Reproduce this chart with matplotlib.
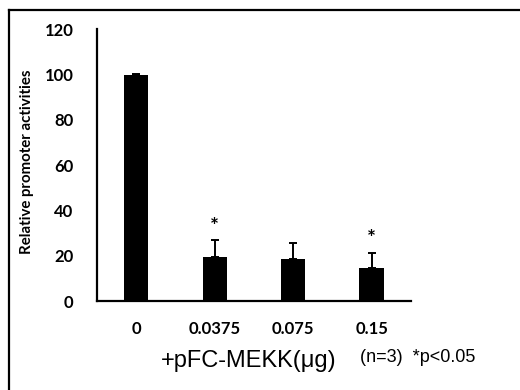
import matplotlib
matplotlib.use("Agg")
import matplotlib.pyplot as plt
from matplotlib.lines import Line2D

# data
doses = ["0", "0.0375", "0.075", "0.15"]
activity = [99.5, 19.5, 18.4, 14.4]
errors = [0.6, 7.4, 7.0, 6.9]
significant = [False, True, False, True]

plt.rcParams['font.family'] = ['Lato', 'DejaVu Sans']

fig = plt.figure(figsize=(5.2, 3.9), dpi=100)
ax = fig.add_axes([0.1865, 0.228, 0.6035, 0.6976])

x = list(range(len(doses)))
ax.bar(x, activity, width=0.31, color='black', zorder=2)
ax.errorbar(x, activity, yerr=[[0] * len(errors), errors], fmt='none',
            ecolor='black', elinewidth=1.4, capsize=3, capthick=1.4, zorder=3)

# significance stars
for xi, v, e, s in zip(x, activity, errors, significant):
    if s:
        ax.text(xi, v + e + 1.5, "*", ha='center', va='bottom',
                fontsize=15, fontweight='bold')

ax.set_xlim(-0.5, 3.5)
ax.set_ylim(0, 120)
ax.set_yticks(range(0, 121, 20))
ax.set_xticks(x)
ax.set_xticklabels(doses)
ax.tick_params(axis='both', length=0, labelsize=12)
ax.tick_params(axis='x', pad=14)
ax.tick_params(axis='y', pad=17)
for lbl in ax.get_xticklabels() + ax.get_yticklabels():
    lbl.set_fontweight('bold')

ax.spines['top'].set_visible(False)
ax.spines['right'].set_visible(False)
ax.spines['left'].set_linewidth(1.6)
ax.spines['bottom'].set_linewidth(1.6)

fig.text(27 / 520, 1 - 162 / 390, "Relative promoter activities", rotation=90,
         ha='center', va='center', fontsize=10.8, fontweight='bold')

fig.text(249 / 520, 1 - 361 / 390, "+pFC-MEKK(μg)", ha='center', va='center',
         fontsize=17, family=['Liberation Sans', 'DejaVu Sans'])
fig.text(360 / 520, 1 - 358 / 390, "(n=3)  *p<0.05", ha='left', va='center',
         fontsize=13, family=['Liberation Sans', 'DejaVu Sans'])

# outer frame (top and left only, as in the cropped picture)
fig.add_artist(Line2D([9 / 520, 1], [1 - 10 / 390, 1 - 10 / 390],
                      transform=fig.transFigure, color='black', lw=1.6))
fig.add_artist(Line2D([9 / 520, 9 / 520], [0, 1 - 10 / 390],
                      transform=fig.transFigure, color='black', lw=1.6))

fig.savefig("out.png", dpi=100)
